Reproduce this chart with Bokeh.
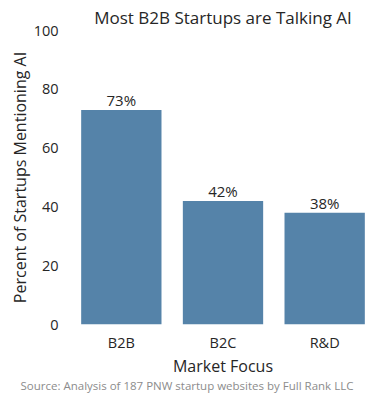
from bokeh.plotting import figure
from bokeh.models import ColumnDataSource, FixedTicker, LabelSet, Range1d, Title
from bokeh.core.properties import value
from bokeh.embed import file_html
from bokeh.resources import INLINE

categories = ["B2B", "B2C", "R&D"]
values = [73, 42, 38]
labels = ["73%", "42%", "38%"]
y_ticks = [0, 20, 40, 60, 80, 100]

FONT = "Open Sans"
BAR = "#5583a9"
TXT = "#262626"

src = ColumnDataSource(dict(cat=categories, val=values, lab=labels))

p = figure(x_range=categories, y_range=Range1d(0, 100),
           width=383, height=399, output_backend="svg", toolbar_location=None,
           title="Most B2B Startups are Talking AI")
p.min_border_left = 70
p.min_border_right = 8
p.min_border_top = 30
p.min_border_bottom = 75
p.outline_line_color = None
p.background_fill_color = "white"
p.border_fill_color = "white"

p.vbar(x="cat", top="val", width=0.79, source=src, fill_color=BAR, line_color=None)

p.add_layout(LabelSet(x="cat", y="val", text="lab", source=src, text_align="center",
                      text_baseline="bottom", y_offset=0, text_font=value(FONT),
                      text_font_size="15px", text_color=TXT))

p.title.text_font = FONT
p.title.text_font_size = "17px"
p.title.text_font_style = "normal"
p.title.align = "center"
p.title.text_color = TXT
p.title.standoff = 4
p.title.offset = 0

for ax in (p.xaxis, p.yaxis):
    ax.axis_line_color = None
    ax.major_tick_line_color = None
    ax.minor_tick_line_color = None
    ax.major_tick_out = 0
    ax.major_tick_in = 0
    ax.major_label_text_font = FONT
    ax.major_label_text_font_size = "14.5px"
    ax.major_label_text_color = TXT
    ax.axis_label_text_font = FONT
    ax.axis_label_text_font_size = "16px"
    ax.axis_label_text_font_style = "normal"
    ax.axis_label_text_color = TXT

p.xaxis.major_label_standoff = 8
p.xaxis.axis_label_standoff = 0
p.yaxis.major_label_standoff = 12
p.yaxis.axis_label_standoff = 0

p.yaxis.ticker = FixedTicker(ticks=y_ticks)
p.xaxis.axis_label = "Market Focus"
p.yaxis.axis_label = "Percent of Startups Mentioning AI"
p.xgrid.grid_line_color = None
p.ygrid.grid_line_color = None

p.add_layout(Title(text="Source: Analysis of 187 PNW startup websites by Full Rank LLC",
                   align="left", offset=-50, standoff=-8, text_font=FONT,
                   text_font_size="11.5px", text_font_style="normal",
                   text_color="#8c8c8c"), "below")

open("out.html", "w").write(file_html(p, INLINE))
